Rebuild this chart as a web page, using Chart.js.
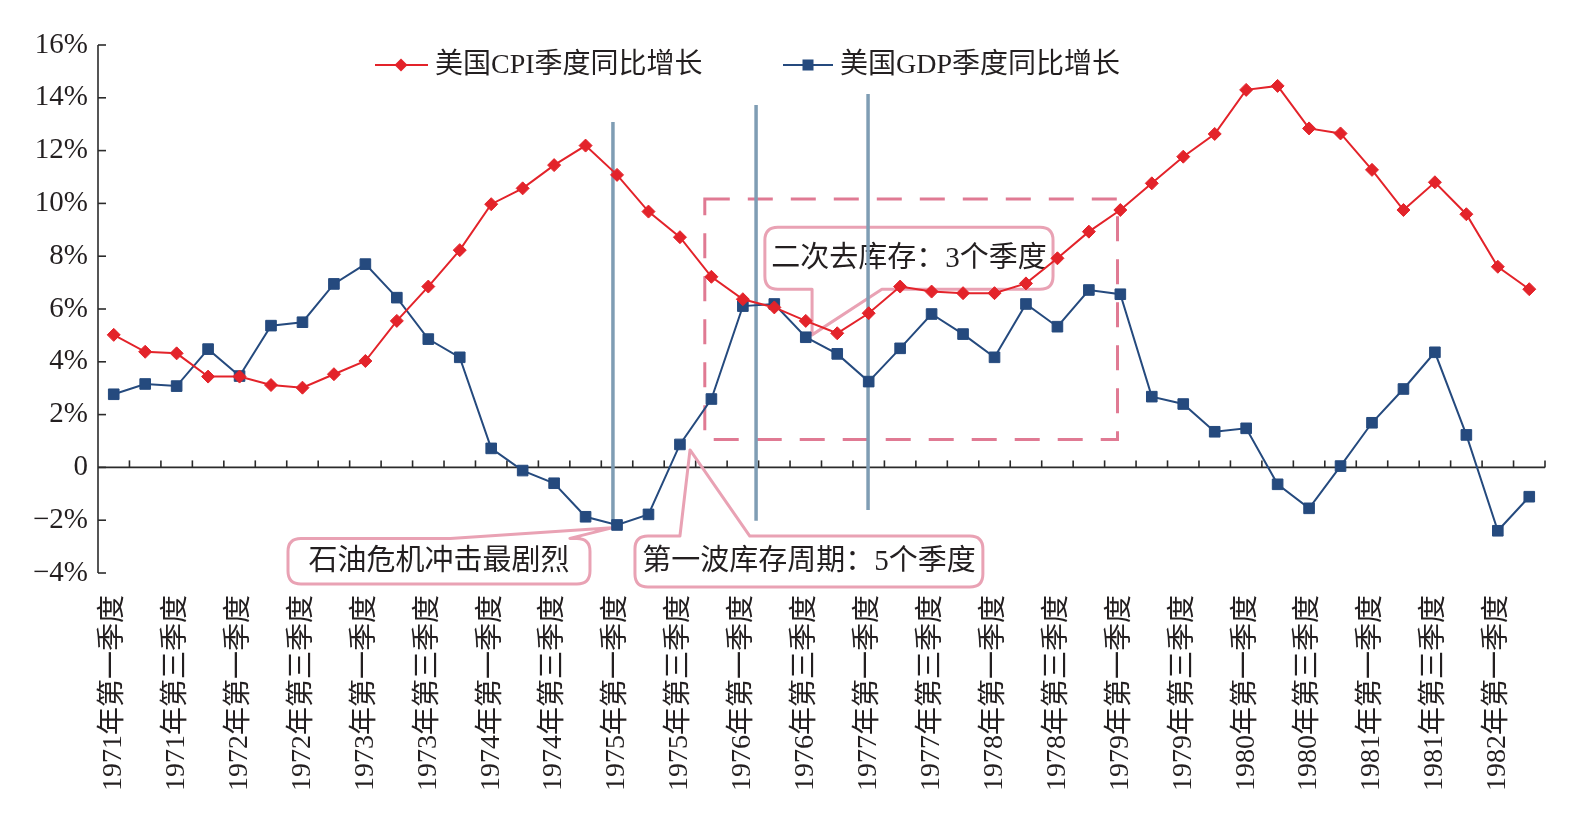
<!DOCTYPE html>
<html><head><meta charset="utf-8">
<script src="https://cdn.jsdelivr.net/npm/chart.js@4"></script>
<style>html,body{margin:0;padding:0;background:#fff;}#wrap{width:1586px;height:821px;}</style>
</head><body><div id="wrap"><canvas id="c" width="1586" height="821"></canvas></div>
<script>
const categories = [
 '1971年第一季度','1971年第二季度','1971年第三季度','1971年第四季度',
 '1972年第一季度','1972年第二季度','1972年第三季度','1972年第四季度',
 '1973年第一季度','1973年第二季度','1973年第三季度','1973年第四季度',
 '1974年第一季度','1974年第二季度','1974年第三季度','1974年第四季度',
 '1975年第一季度','1975年第二季度','1975年第三季度','1975年第四季度',
 '1976年第一季度','1976年第二季度','1976年第三季度','1976年第四季度',
 '1977年第一季度','1977年第二季度','1977年第三季度','1977年第四季度',
 '1978年第一季度','1978年第二季度','1978年第三季度','1978年第四季度',
 '1979年第一季度','1979年第二季度','1979年第三季度','1979年第四季度',
 '1980年第一季度','1980年第二季度','1980年第三季度','1980年第四季度',
 '1981年第一季度','1981年第二季度','1981年第三季度','1981年第四季度',
 '1982年第一季度','1982年第二季度'
];
const cpiGrowth = [5.02,4.38,4.32,3.44,3.44,3.12,3.02,3.53,4.03,5.55,
 6.85,8.23,9.97,10.57,11.45,12.19,11.08,9.69,8.72,7.22,
 6.37,6.06,5.55,5.08,5.84,6.85,6.66,6.6,6.6,6.97,
 7.92,8.93,9.75,10.76,11.77,12.63,14.3,14.45,12.84,12.65,
 11.27,9.75,10.8,9.59,7.6,6.75];
const gdpGrowth = [2.77,3.16,3.08,4.48,3.46,5.37,5.5,6.95,7.7,6.43,
 4.86,4.17,0.72,-0.12,-0.6,-1.87,-2.18,-1.78,0.87,2.59,
 6.11,6.19,4.93,4.3,3.25,4.51,5.81,5.05,4.17,6.19,
 5.33,6.72,6.56,2.68,2.4,1.35,1.48,-0.64,-1.55,0.05,
 1.69,2.97,4.36,1.23,-2.4,-1.11];
const seriesNames = ['美国CPI季度同比增长','美国GDP季度同比增长'];
const yTickLabels = ['−4%','−2%','0','2%','4%','6%','8%','10%','12%','14%','16%'];
const calloutTexts = ['石油危机冲击最剧烈','第一波库存周期：5个季度','二次去库存：3个季度'];

// annotation geometry in data coordinates (category index, percent)
const markerLines = [
 {x:15.87, from:-2.2, to:13.08},
 {x:20.42, from:-2.02, to:13.73},
 {x:23.98, from:-1.61, to:14.14}
];
const inventoryBox = {x0:18.79, x1:31.91, y0:1.06, y1:10.17};
const callouts = [
 {x0:5.54, x1:15.14, yTop:-2.69, yBot:-4.42, side:'top', base:[10.7,14.5], tip:[15.84,-2.29]},
 {x0:16.57, x1:27.63, yTop:-2.6, yBot:-4.53, side:'top', base:[18.0,20.22], tip:[18.32,0.66]},
 {x0:20.7, x1:29.86, yTop:9.1, yBot:6.75, side:'bottom', base:[22.2,24.42], tip:[22.2,5.02]}
];

const FONT = "'Liberation Serif','Noto Sans CJK SC',serif";
const TEXT = '#231f20';
const RED = '#e3232a';
const BLUE = '#254a7e';
const AXIS = '#2b2b2b';
const PINK_BOX = '#e9a2b4';
const PINK_DASH = '#e07a93';
const STEEL = '#7f9db4';

function seg(ctx,x1,y1,x2,y2){ctx.beginPath();ctx.moveTo(x1,y1);ctx.lineTo(x2,y2);ctx.stroke();}

function calloutPath(ctx, L, R, T, B, r, side, bx1, bx2, tx, ty){
  ctx.beginPath();
  ctx.moveTo(L+r, T);
  if(side==='top'){ctx.lineTo(bx1,T);ctx.lineTo(tx,ty);ctx.lineTo(bx2,T);}
  ctx.lineTo(R-r,T);
  ctx.quadraticCurveTo(R,T,R,T+r);
  ctx.lineTo(R,B-r);
  ctx.quadraticCurveTo(R,B,R-r,B);
  if(side==='bottom'){ctx.lineTo(bx2,B);ctx.lineTo(tx,ty);ctx.lineTo(bx1,B);}
  ctx.lineTo(L+r,B);
  ctx.quadraticCurveTo(L,B,L,B-r);
  ctx.lineTo(L,T+r);
  ctx.quadraticCurveTo(L,T,L+r,T);
  ctx.closePath();
}

const annotPlugin = {
  id:'annot',
  beforeDatasetsDraw(chart){
    const {ctx, chartArea:a, scales:{x,y}} = chart;
    ctx.save();
    const y0 = y.getPixelForValue(0);
    ctx.strokeStyle = AXIS; ctx.lineWidth = 1.6;
    seg(ctx, a.left, a.top, a.left, a.bottom);
    seg(ctx, a.left, y0, a.right, y0);
    y.ticks.forEach(t=>{const py=y.getPixelForValue(t.value); seg(ctx,a.left,py,a.left+8,py);});
    for(let i=0;i<categories.length;i++){const px=x.getPixelForValue(i+0.5); seg(ctx,px,y0,px,y0-7);}
    ctx.strokeStyle = PINK_DASH; ctx.lineWidth = 3; ctx.setLineDash([25,18]);
    const bl=x.getPixelForValue(inventoryBox.x0), br=x.getPixelForValue(inventoryBox.x1);
    const bt=y.getPixelForValue(inventoryBox.y1), bb=y.getPixelForValue(inventoryBox.y0);
    ctx.strokeRect(bl,bt,br-bl,bb-bt);
    ctx.setLineDash([]);
    callouts.forEach((c,k)=>{
      const L=x.getPixelForValue(c.x0), R=x.getPixelForValue(c.x1);
      const T=y.getPixelForValue(c.yTop), B=y.getPixelForValue(c.yBot);
      const bx1=x.getPixelForValue(c.base[0]), bx2=x.getPixelForValue(c.base[1]);
      const tx=x.getPixelForValue(c.tip[0]), ty=y.getPixelForValue(c.tip[1]);
      ctx.strokeStyle = PINK_BOX; ctx.lineWidth = 3; ctx.lineJoin='round';
      calloutPath(ctx,L,R,T,B,13,c.side,bx1,bx2,tx,ty);
      ctx.stroke();
      ctx.fillStyle = TEXT; ctx.font = '29px '+FONT;
      ctx.textAlign='center'; ctx.textBaseline='middle';
      ctx.fillText(calloutTexts[k], (L+R)/2, (T+B)/2+1);
    });
    ctx.strokeStyle = STEEL; ctx.lineWidth = 3.5;
    markerLines.forEach(m=>{
      const px=x.getPixelForValue(m.x);
      seg(ctx,px,y.getPixelForValue(m.to),px,y.getPixelForValue(m.from));
    });
    ctx.restore();
  },
  afterDraw(chart){
    const {ctx} = chart;
    ctx.save();
    const ly = 65;
    ctx.strokeStyle = RED; ctx.lineWidth = 2;
    seg(ctx,375,ly,428,ly);
    ctx.fillStyle = RED;
    ctx.beginPath(); ctx.moveTo(401-6.5,ly); ctx.lineTo(401,ly-6.5); ctx.lineTo(401+6.5,ly); ctx.lineTo(401,ly+6.5); ctx.closePath(); ctx.fill();
    ctx.strokeStyle = BLUE;
    seg(ctx,783,ly,833,ly);
    ctx.fillStyle = BLUE; ctx.fillRect(808-5.5,ly-5.5,11,11);
    ctx.fillStyle = TEXT; ctx.font = '28px '+FONT; ctx.textAlign='left'; ctx.textBaseline='middle';
    ctx.fillText(seriesNames[0], 435, ly+1);
    ctx.fillText(seriesNames[1], 840, ly+1);
    ctx.restore();
  }
};

new Chart(document.getElementById('c'), {
  type:'line',
  data:{labels:categories, datasets:[
    {label:seriesNames[0], data:cpiGrowth, borderColor:RED, backgroundColor:RED, borderWidth:2,
     pointStyle:'rectRot', pointRadius:6.5, pointBorderWidth:1, pointBorderColor:RED, tension:0},
    {label:seriesNames[1], data:gdpGrowth, borderColor:BLUE, backgroundColor:BLUE, borderWidth:2,
     pointStyle:'rect', pointRadius:7.5, pointBorderWidth:1, pointBorderColor:BLUE, tension:0}
  ]},
  options:{
    responsive:false, animation:false, devicePixelRatio:1,
    layout:{padding:{top:45,right:41,left:0,bottom:0}},
    plugins:{legend:{display:false}, tooltip:{enabled:false}},
    scales:{
      x:{type:'category', offset:true, grid:{display:false, drawTicks:false}, border:{display:false},
         ticks:{autoSkip:false, maxRotation:90, minRotation:90, padding:22, color:TEXT,
                font:{family:FONT, size:28}, callback:(v,i)=> i%2===0 ? categories[i] : ''},
         afterFit:s=>{s.height=248;}},
      y:{min:-4, max:16, grid:{display:false, drawTicks:false}, border:{display:false},
         ticks:{stepSize:2, padding:10, color:TEXT, font:{family:FONT, size:29},
                callback:(v,i)=> yTickLabels[i]},
         afterFit:s=>{s.width=98;}}
    }
  },
  plugins:[annotPlugin]
});
</script>
</body></html>
